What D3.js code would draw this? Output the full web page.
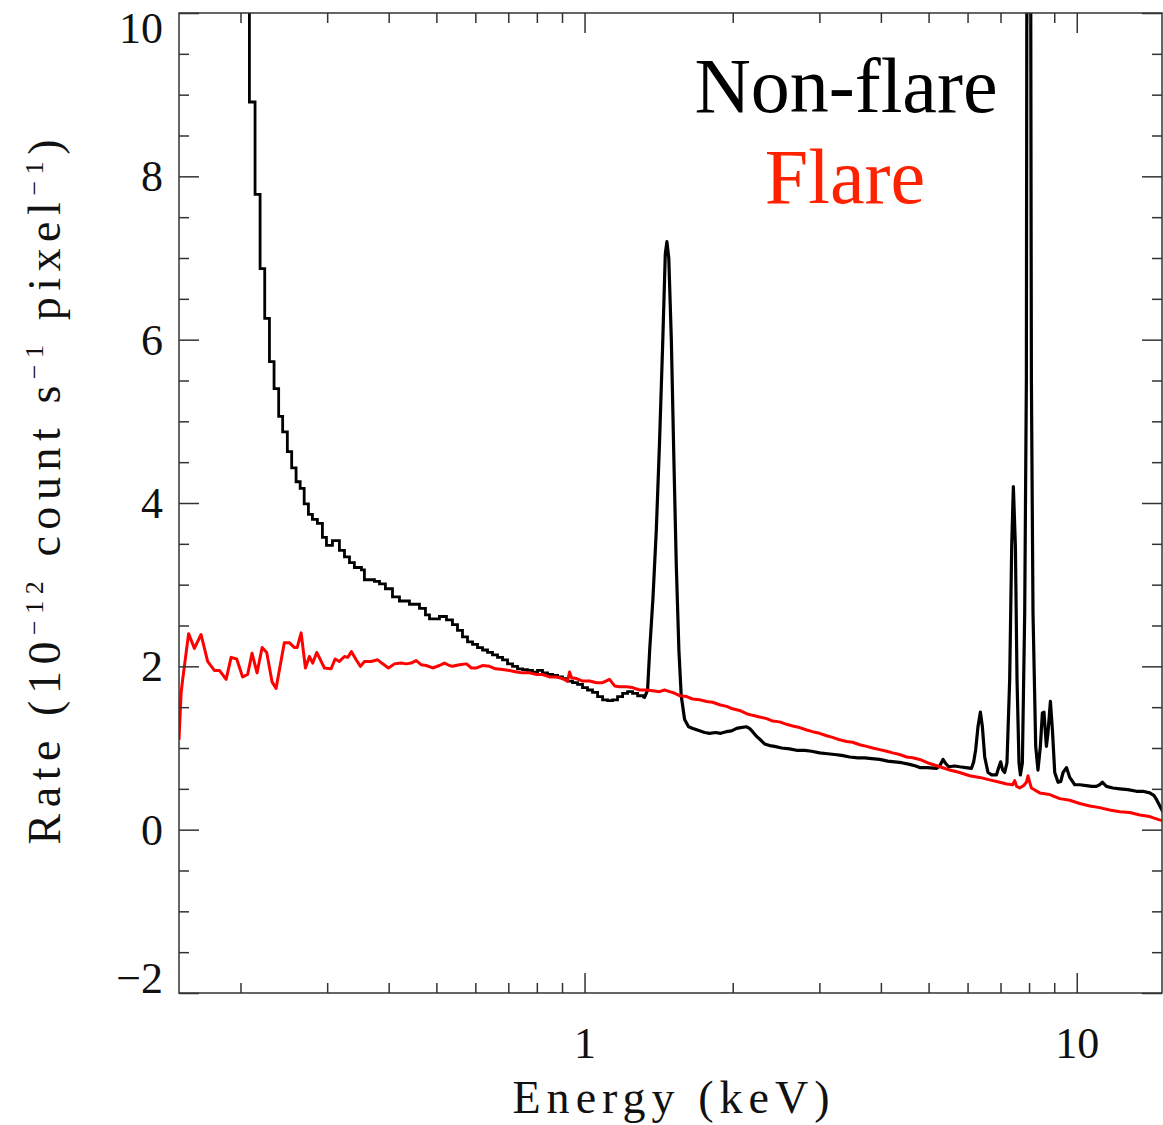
<!DOCTYPE html>
<html>
<head>
<meta charset="utf-8">
<script src="https://cdnjs.cloudflare.com/ajax/libs/d3/7.8.5/d3.min.js"></script>
<style>
    body { margin: 0; background: #fff; }
    svg { display: block; }
    text { font-family: "Liberation Serif", "Times New Roman", serif; }
</style>
</head>
<body>
<svg></svg>
<script>
// *** Data (energy in keV, rate in 1e-12 count/s/pixel) ***

// non-flare, low energy binned part (drawn as steps)
var nonflareStepE = [0.204, 0.2085, 0.2141, 0.2192, 0.2240, 0.2290, 0.2340, 0.2391, 0.2436, 0.2490,
    0.2541, 0.2594, 0.2644, 0.2694, 0.2748, 0.2800, 0.2866, 0.2934, 0.2990, 0.3075,
    0.3177, 0.3253, 0.3330, 0.3407, 0.3522, 0.3571, 0.3742, 0.3832, 0.3939, 0.4072,
    0.4207, 0.4408, 0.4620, 0.4751, 0.4842, 0.5072, 0.5242, 0.5391, 0.5519, 0.5650,
    0.5784, 0.5922, 0.6061, 0.6205, 0.6352, 0.6502, 0.6656, 0.6814, 0.6975, 0.7140,
    0.7308, 0.7482, 0.7657, 0.7840, 0.8026, 0.8215, 0.8410, 0.8610, 0.8814, 0.9021,
    0.9235, 0.9454, 0.9678, 0.9906, 1.014, 1.038, 1.063, 1.088, 1.114, 1.140,
    1.167, 1.195, 1.223, 1.252, 1.282, 1.312];
var nonflareStepR = [12, 8.91, 7.78, 6.87, 6.26, 5.73, 5.40, 5.06, 4.87, 4.63,
    4.43, 4.26, 4.18, 3.99, 3.86, 3.80, 3.75, 3.58, 3.48, 3.54,
    3.42, 3.34, 3.27, 3.21, 3.18, 3.06, 3.04, 3.01, 2.95, 2.85,
    2.80, 2.76, 2.71, 2.63, 2.58, 2.61, 2.57, 2.51, 2.44, 2.36,
    2.30, 2.27, 2.23, 2.20, 2.17, 2.14, 2.11, 2.08, 2.03, 2.00,
    1.97, 1.96, 1.95, 1.93, 1.95, 1.92, 1.90, 1.89, 1.87, 1.85,
    1.82, 1.80, 1.78, 1.74, 1.71, 1.68, 1.63, 1.59, 1.58, 1.59,
    1.63, 1.67, 1.69, 1.67, 1.64, 1.63];

// non-flare, lines region (Al K, Ni, Au ... peaks)
var nonflareE = [1.312, 1.324, 1.343, 1.356, 1.377, 1.399, 1.420, 1.442, 1.459, 1.470,
    1.483, 1.501, 1.519, 1.536, 1.555, 1.572, 1.597, 1.627, 1.660, 1.713,
    1.754, 1.795, 1.846, 1.890, 1.941, 1.990, 2.037, 2.075, 2.131, 2.164,
    2.195, 2.237, 2.268, 2.322, 2.377, 2.433, 2.514, 2.610, 2.710, 2.801,
    2.893, 3.003, 3.118, 3.222, 3.330, 3.457, 3.589, 3.709, 3.832, 3.978,
    4.129, 4.267, 4.409, 4.577, 4.708, 4.797, 4.979, 5.186, 5.267, 5.349,
    5.417, 5.494, 5.649, 5.783, 5.948, 6.109, 6.174, 6.232, 6.300, 6.371,
    6.431, 6.501, 6.602, 6.718, 6.867, 6.941, 7.006, 7.072, 7.139, 7.215,
    7.307, 7.376, 7.434, 7.505, 7.562, 7.632, 7.683, 7.754, 7.839, 7.900,
    7.931, 8.043, 8.088, 8.149, 8.253, 8.341, 8.435, 8.515, 8.578, 8.676,
    8.742, 8.840, 8.924, 9.021, 9.162, 9.279, 9.379, 9.530, 9.678, 9.907,
    10.14, 10.46, 10.73, 10.96, 11.13, 11.28, 11.49, 11.84, 12.23, 12.70,
    13.22, 13.62, 14.07, 14.34, 14.52, 14.75, 14.96];
var nonflareR = [1.63, 1.62, 1.71, 2.19, 2.83, 3.67, 4.73, 5.99, 7.05, 7.20,
    7.00, 5.99, 4.52, 3.24, 2.19, 1.64, 1.35, 1.26, 1.24, 1.21,
    1.19, 1.18, 1.19, 1.18, 1.20, 1.21, 1.24, 1.25, 1.26, 1.24,
    1.20, 1.14, 1.11, 1.05, 1.03, 1.02, 1.00, 0.99, 0.97, 0.97,
    0.96, 0.94, 0.93, 0.92, 0.91, 0.89, 0.88, 0.88, 0.87, 0.86,
    0.84, 0.83, 0.82, 0.80, 0.78, 0.76, 0.76, 0.75, 0.78, 0.86,
    0.81, 0.77, 0.78, 0.77, 0.76, 0.75, 0.83, 0.98, 1.26, 1.44,
    1.26, 0.89, 0.70, 0.67, 0.67, 0.76, 0.83, 0.73, 0.70, 0.82,
    1.84, 3.47, 4.20, 3.47, 1.84, 0.82, 0.67, 0.82, 2.66, 5.51,
    14, 14, 5.51, 2.66, 1.02, 0.73, 1.02, 1.43, 1.44, 1.02,
    1.19, 1.57, 1.22, 0.70, 0.58, 0.59, 0.70, 0.76, 0.64, 0.55,
    0.55, 0.54, 0.53, 0.53, 0.55, 0.58, 0.53, 0.51, 0.50, 0.49,
    0.47, 0.47, 0.45, 0.42, 0.37, 0.29, 0.22];

// flare
var flareE = [0.150, 0.1515, 0.1526, 0.1569, 0.1612, 0.1663, 0.1715, 0.1770, 0.1812, 0.1870,
    0.1914, 0.1965, 0.2020, 0.2068, 0.2111, 0.2161, 0.2213, 0.2261, 0.2318, 0.2362,
    0.2455, 0.2514, 0.2574, 0.2607, 0.2656, 0.2710, 0.2761, 0.2804, 0.2857, 0.2962,
    0.3056, 0.3113, 0.3177, 0.3253, 0.3304, 0.3361, 0.3436, 0.3505, 0.3571, 0.3685,
    0.3801, 0.3873, 0.3996, 0.4110, 0.4240, 0.4341, 0.4444, 0.4549, 0.4657, 0.4767,
    0.4916, 0.5072, 0.5192, 0.5315, 0.5391, 0.5570, 0.5757, 0.5893, 0.6033, 0.6205,
    0.6412, 0.6594, 0.6814, 0.7040, 0.7274, 0.7482, 0.7731, 0.7989, 0.8215, 0.8489,
    0.8773, 0.9021, 0.9235, 0.9322, 0.9410, 0.9632, 0.9906, 1.024, 1.058, 1.088,
    1.124, 1.151, 1.178, 1.217, 1.252, 1.294, 1.337, 1.375, 1.420, 1.454,
    1.489, 1.510, 1.560, 1.612, 1.658, 1.713, 1.770, 1.820, 1.881, 1.944,
    1.999, 2.065, 2.134, 2.195, 2.268, 2.344, 2.411, 2.491, 2.574, 2.647,
    2.735, 2.827, 2.906, 3.003, 3.104, 3.192, 3.298, 3.408, 3.505, 3.622,
    3.743, 3.850, 3.978, 4.110, 4.227, 4.367, 4.512, 4.641, 4.797, 5.025,
    5.267, 5.520, 5.783, 6.060, 6.350, 6.655, 6.974, 7.206, 7.411, 7.481,
    7.551, 7.658, 7.803, 7.900, 7.961, 8.026, 8.088, 8.411, 8.812, 9.235,
    9.678, 10.14, 10.63, 11.13, 11.67, 12.23, 12.82, 13.43, 14.07, 14.89];
var flareR = [1.10, 1.68, 1.84, 2.40, 2.22, 2.39, 2.06, 1.95, 1.95, 1.84,
    2.11, 2.09, 1.87, 1.90, 2.16, 1.92, 2.23, 2.17, 1.81, 1.73,
    2.29, 2.29, 2.23, 2.23, 2.41, 1.98, 2.12, 2.04, 2.17, 1.98,
    1.97, 2.09, 2.06, 2.12, 2.11, 2.18, 2.08, 2.00, 2.06, 2.06,
    2.08, 2.04, 1.98, 2.03, 2.04, 2.03, 2.04, 2.07, 2.02, 2.01,
    1.98, 2.01, 2.04, 2.01, 2.00, 2.02, 2.03, 1.98, 1.98, 2.01,
    2.00, 1.97, 1.96, 1.95, 1.93, 1.92, 1.92, 1.90, 1.90, 1.87,
    1.87, 1.85, 1.82, 1.93, 1.86, 1.85, 1.82, 1.82, 1.80, 1.80,
    1.84, 1.76, 1.75, 1.75, 1.74, 1.71, 1.71, 1.70, 1.69, 1.71,
    1.69, 1.68, 1.64, 1.63, 1.60, 1.59, 1.57, 1.56, 1.53, 1.51,
    1.48, 1.46, 1.42, 1.40, 1.38, 1.36, 1.33, 1.32, 1.29, 1.27,
    1.25, 1.22, 1.20, 1.18, 1.15, 1.13, 1.10, 1.08, 1.07, 1.04,
    1.02, 1.00, 0.98, 0.96, 0.94, 0.92, 0.89, 0.88, 0.86, 0.81,
    0.77, 0.73, 0.70, 0.66, 0.64, 0.61, 0.58, 0.56, 0.55, 0.60,
    0.53, 0.51, 0.54, 0.58, 0.66, 0.58, 0.51, 0.45, 0.43, 0.38,
    0.36, 0.32, 0.29, 0.27, 0.24, 0.22, 0.21, 0.18, 0.16, 0.11];

// ticks
var xMajorTicks = [1, 10];
var xMinorTicks = [0.2, 0.3, 0.4, 0.5, 0.6, 0.7, 0.8, 0.9, 2, 3, 4, 5, 6, 7, 8, 9];
var yMajorTicks = [-2, 0, 2, 4, 6, 8, 10];
var yMinorTicks = [-1.5, -1, -0.5, 0.5, 1, 1.5, 2.5, 3, 3.5, 4.5, 5, 5.5, 6.5, 7, 7.5, 8.5, 9, 9.5];
var legendLabels = ["Non-flare", "Flare"];


// *** Define Our Variables ***
var svgWidth = 1163, svgHeight = 1125;
var plotLeft = 179, plotRight = 1162, plotTop = 13, plotBottom = 993;
var axisColor = "#333";

var svg = d3.select("svg")
    .attr("width", svgWidth)
    .attr("height", svgHeight);


// *** Scales ***
var xScale = d3.scaleLog()
    .domain([0.15, 14.9])
    .range([plotLeft, plotRight]);

var yScale = d3.scaleLinear()
    .domain([-2, 10])
    .range([plotBottom, plotTop]);


// *** Clip so the spikes stop at the frame ***
svg.append("clipPath")
    .attr("id", "plot-clip")
    .append("rect")
    .attr("x", plotLeft)
    .attr("y", plotTop)
    .attr("width", plotRight - plotLeft)
    .attr("height", plotBottom - plotTop);

var plot = svg.append("g").attr("clip-path", "url(#plot-clip)");

var stepLine = d3.line()
    .x(function (d) { return xScale(d[0]); })
    .y(function (d) { return yScale(d[1]); })
    .curve(d3.curveStepAfter);

var plainLine = d3.line()
    .x(function (d) { return xScale(d[0]); })
    .y(function (d) { return yScale(d[1]); });


// *** Non-flare spectrum (black) ***
plot.append("path")
    .datum(d3.zip(nonflareStepE, nonflareStepR))
    .attr("d", stepLine)
    .attr("fill", "none")
    .attr("stroke", "#000")
    .attr("stroke-width", 2.8);

plot.append("path")
    .datum(d3.zip(nonflareE, nonflareR))
    .attr("d", plainLine)
    .attr("fill", "none")
    .attr("stroke", "#000")
    .attr("stroke-width", 3.2)
    .attr("stroke-linejoin", "round");


// *** Flare spectrum (red) ***
plot.append("path")
    .datum(d3.zip(flareE, flareR))
    .attr("d", plainLine)
    .attr("fill", "none")
    .attr("stroke", "#ff0000")
    .attr("stroke-width", 3)
    .attr("stroke-linejoin", "round");


// *** The Axes *** (ticks point inwards on all four sides)
function styleAxis(g) {
    g.select(".domain").remove();
    g.selectAll(".tick line").attr("stroke", axisColor).attr("stroke-width", 1.5);
    g.selectAll(".tick text")
        .attr("fill", "#111")
        .style("font-size", "44px")
        .style("font-family", "'Liberation Serif', serif");
}

// bottom
svg.append("g")
    .attr("transform", "translate(0," + plotBottom + ")")
    .call(d3.axisBottom(xScale).tickValues(xMajorTicks).tickSize(-20).tickSizeOuter(0)
        .tickPadding(34).tickFormat(d3.format("d")))
    .call(styleAxis);
svg.append("g")
    .attr("transform", "translate(0," + plotBottom + ")")
    .call(d3.axisBottom(xScale).tickValues(xMinorTicks).tickSize(-10).tickSizeOuter(0).tickFormat(""))
    .call(styleAxis);

// top
svg.append("g")
    .attr("transform", "translate(0," + plotTop + ")")
    .call(d3.axisTop(xScale).tickValues(xMajorTicks).tickSize(-20).tickSizeOuter(0).tickFormat(""))
    .call(styleAxis);
svg.append("g")
    .attr("transform", "translate(0," + plotTop + ")")
    .call(d3.axisTop(xScale).tickValues(xMinorTicks).tickSize(-10).tickSizeOuter(0).tickFormat(""))
    .call(styleAxis);

// left
svg.append("g")
    .attr("transform", "translate(" + plotLeft + ",0)")
    .call(d3.axisLeft(yScale).tickValues(yMajorTicks).tickSize(-20).tickSizeOuter(0)
        .tickPadding(16).tickFormat(d3.format("d")))
    .call(styleAxis)
    .selectAll(".tick text")
    .attr("dy", function (d) {
        // end labels sit inside the frame, like the original
        if (d === 10) return "0.67em";
        if (d === -2) return "-0.02em";
        return "0.33em";
    });
svg.append("g")
    .attr("transform", "translate(" + plotLeft + ",0)")
    .call(d3.axisLeft(yScale).tickValues(yMinorTicks).tickSize(-10).tickSizeOuter(0).tickFormat(""))
    .call(styleAxis);

// right
svg.append("g")
    .attr("transform", "translate(" + plotRight + ",0)")
    .call(d3.axisRight(yScale).tickValues(yMajorTicks).tickSize(-20).tickSizeOuter(0).tickFormat(""))
    .call(styleAxis);
svg.append("g")
    .attr("transform", "translate(" + plotRight + ",0)")
    .call(d3.axisRight(yScale).tickValues(yMinorTicks).tickSize(-10).tickSizeOuter(0).tickFormat(""))
    .call(styleAxis);

// frame
svg.append("rect")
    .attr("x", plotLeft)
    .attr("y", plotTop)
    .attr("width", plotRight - plotLeft)
    .attr("height", plotBottom - plotTop)
    .attr("fill", "none")
    .attr("stroke", axisColor)
    .attr("stroke-width", 1.5);


// *** Axis titles ***
svg.append("text")
    .attr("x", 671)
    .attr("y", 1113)
    .attr("text-anchor", "middle")
    .attr("textLength", 317)
    .attr("lengthAdjust", "spacing")
    .style("font-size", "46px")
    .attr("fill", "#111")
    .text("Energy (keV)");

var yTitle = svg.append("text")
    .attr("transform", "translate(60,492) rotate(-90)")
    .attr("text-anchor", "middle")
    .attr("textLength", 705)
    .attr("lengthAdjust", "spacing")
    .style("font-size", "46px")
    .attr("fill", "#111");
yTitle.append("tspan").text("Rate (10");
yTitle.append("tspan").attr("dy", -17).style("font-size", "26px").text("\u221212");
yTitle.append("tspan").attr("dy", 17).text(" count s");
yTitle.append("tspan").attr("dy", -17).style("font-size", "26px").text("\u22121");
yTitle.append("tspan").attr("dy", 17).text(" pixel");
yTitle.append("tspan").attr("dy", -17).style("font-size", "26px").text("\u22121");
yTitle.append("tspan").attr("dy", 17).text(")");


// *** Legend ***
svg.append("text")
    .attr("x", 846)
    .attr("y", 112)
    .attr("text-anchor", "middle")
    .style("font-size", "78px")
    .attr("fill", "#000")
    .text(legendLabels[0]);

svg.append("text")
    .attr("x", 845)
    .attr("y", 203)
    .attr("text-anchor", "middle")
    .style("font-size", "78px")
    .attr("fill", "#ff2200")
    .text(legendLabels[1]);
</script>
</body>
</html>
